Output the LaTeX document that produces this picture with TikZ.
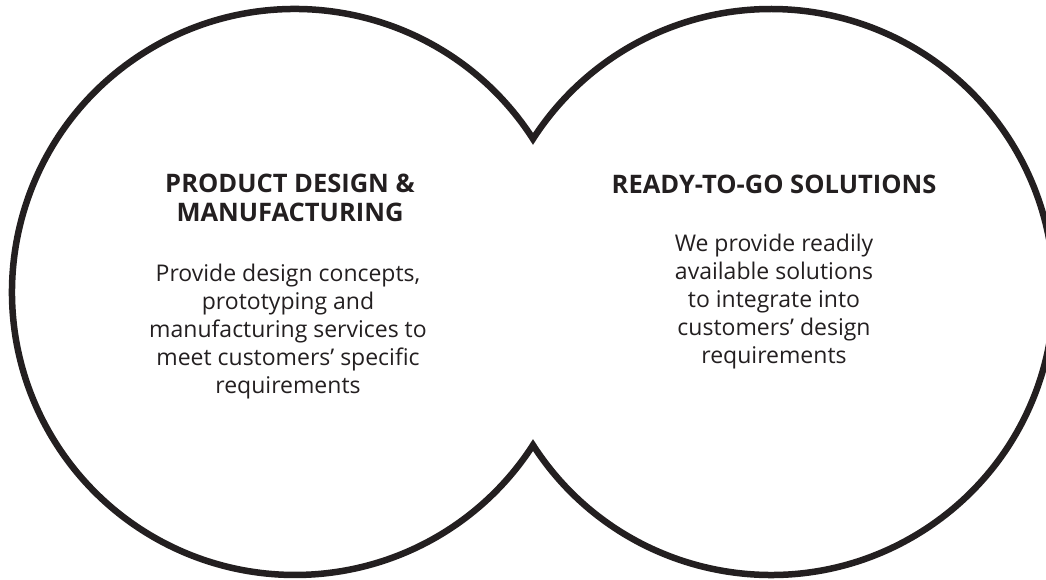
\documentclass[tikz,border=0pt]{standalone}
\usepackage{fontspec}
\setmainfont{Open Sans}
\definecolor{ink}{HTML}{231F20}
\begin{document}
\begin{tikzpicture}[x=1pt,y=1pt,
  outline/.style={draw=ink,line width=6.5pt,line join=miter,miter limit=20},
  heading/.style={text=ink,align=center,font=\fontsize{25.5}{28.5}\selectfont\bfseries,inner sep=0pt},
  bodytext/.style={text=ink,align=center,font=\fontsize{23}{28}\selectfont,inner sep=0pt}]
\useasboundingbox (0,0) rectangle (1046,579);
\clip (0,0) rectangle (1046,579);
\def\vd{153.1}
\def\ang{32.75}
\coordinate (lc) at (295,287);
\coordinate (rc) at (771,287);
\coordinate (top) at (533,287+\vd);
\draw[outline] (top) arc[start angle=\ang,end angle=360-\ang,radius=283pt]
  arc[start angle=180+\ang,end angle=540-\ang,radius=283pt] -- cycle;
\node[heading] (lhead) at (290,381) {PRODUCT DESIGN \&\\MANUFACTURING};
\node[bodytext] (lbody) at (288,247) {Provide design concepts,\\prototyping and\\manufacturing services to\\meet customers’ specific\\requirements};
\node[heading] (rhead) at (774,395) {READY-TO-GO SOLUTIONS};
\node[bodytext] (rbody) at (774,277) {We provide readily\\available solutions\\to integrate into\\customers’ design\\requirements};
\end{tikzpicture}
\end{document}
